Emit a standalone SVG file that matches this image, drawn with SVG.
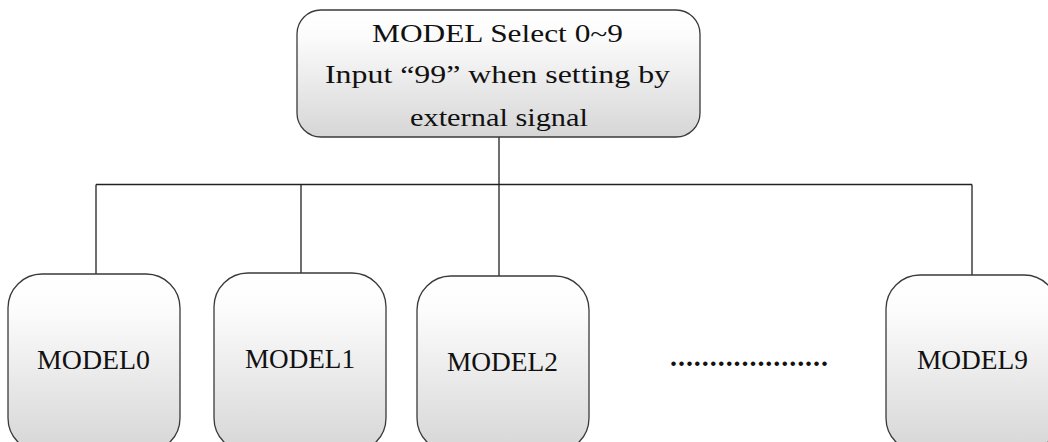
<svg xmlns="http://www.w3.org/2000/svg" width="1048" height="442" viewBox="0 0 1048 442">
<defs>
<linearGradient id="g" x1="0" y1="0" x2="0" y2="1">
<stop offset="0" stop-color="#ffffff"/>
<stop offset="0.2" stop-color="#fcfcfc"/>
<stop offset="1" stop-color="#d6d6d6"/>
</linearGradient>
</defs>
<style>
.box{fill:url(#g);stroke:#3a3a3a;stroke-width:1.3}
.t{font-family:"Liberation Serif","DejaVu Serif",serif;fill:#111;text-anchor:start}
.top{font-size:26px}
.bot{font-size:28px}
.conn{fill:none;stroke:#222;stroke-width:1.3}
</style>
<rect width="1048" height="442" fill="#fff"/>
<g id="connectors">
<path class="conn" d="M499 137V184.5M96 184.5H972M96 184.5V274M301 184.5V273M499 184.5V276M972 184.5V275"/>
</g>
<g id="node-select">
<rect class="box" x="297" y="10" width="403" height="127" rx="24" ry="24"/>
<text class="t top" x="372" y="42" textLength="251" lengthAdjust="spacingAndGlyphs">MODEL Select 0~9</text>
<text class="t top" x="325" y="83" textLength="345" lengthAdjust="spacingAndGlyphs">Input “99” when setting by</text>
<text class="t top" x="410" y="126" textLength="178" lengthAdjust="spacingAndGlyphs">external signal</text>
</g>
<g id="node-model0">
<rect class="box" x="8" y="274" width="172" height="178" rx="34" ry="34"/>
<text class="t bot" x="37" y="369" textLength="113" lengthAdjust="spacingAndGlyphs">MODEL0</text>
</g>
<g id="node-model1">
<rect class="box" x="214" y="273" width="172" height="179" rx="34" ry="34"/>
<text class="t bot" x="245" y="368" textLength="110" lengthAdjust="spacingAndGlyphs">MODEL1</text>
</g>
<g id="node-model2">
<rect class="box" x="417" y="276" width="172" height="176" rx="34" ry="34"/>
<text class="t bot" x="447" y="371" textLength="111" lengthAdjust="spacingAndGlyphs">MODEL2</text>
</g>
<g id="node-dots">
<text class="t bot" x="670" y="366" textLength="158" lengthAdjust="spacing" font-weight="bold">....................</text>
</g>
<g id="node-model9">
<rect class="box" x="886" y="275" width="172" height="177" rx="34" ry="34"/>
<text class="t bot" x="917" y="369" textLength="111" lengthAdjust="spacingAndGlyphs">MODEL9</text>
</g>
</svg>
